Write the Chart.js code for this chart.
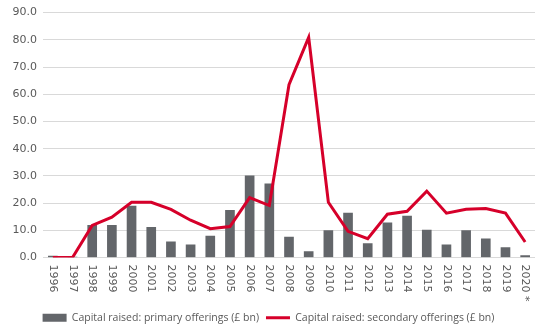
<!DOCTYPE html>
<html>
<head>
<meta charset="utf-8">
<script src="https://cdn.jsdelivr.net/npm/chart.js@4"></script>
<style>
  html, body { margin: 0; padding: 0; background: #fff; }
  #wrap { width: 550px; height: 330px; }
</style>
</head>
<body>
<div id="wrap"><canvas id="chart"></canvas></div>
<script>
// Années (2020* = provisoire)
const years = ['1996', '1997', '1998', '1999', '2000', '2001', '2002', '2003', '2004', '2005',
  '2006', '2007', '2008', '2009', '2010', '2011', '2012', '2013', '2014', '2015',
  '2016', '2017', '2018', '2019', '2020 *'];

// Primary offerings (£ bn)
const primary = [0.5, 0.2, 11.8, 11.8, 18.9, 11.1, 5.8, 4.7, 7.9, 17.3,
  30.0, 27.1, 7.5, 2.2, 9.9, 16.3, 5.1, 12.7, 15.2, 10.1,
  4.7, 9.9, 6.9, 3.6, 0.7];

// Secondary offerings (£ bn)
const secondary = [0.0, 0.0, 11.8, 14.8, 20.3, 20.3, 17.7, 13.7, 10.6, 11.4,
  22.0, 19.1, 63.5, 80.9, 20.3, 9.6, 6.9, 15.9, 17.0, 24.4,
  16.3, 17.7, 18.0, 16.3, 5.7];

const yMax = 90;
const yStep = 10;

const labelFont = '11px "DejaVu Sans"';
const labelColor = '#595959';

// X etiketleri saat yönünde döndürülmüş (yukarıdan aşağı)
const verticalLabels = {
  id: 'verticalLabels',
  afterDraw(chart) {
    const ctx = chart.ctx;
    const xs = chart.scales.x;
    ctx.save();
    ctx.font = labelFont;
    ctx.fillStyle = labelColor;
    ctx.textAlign = 'left';
    ctx.textBaseline = 'middle';
    years.forEach((y, i) => {
      const px = xs.getPixelForValue(i);
      ctx.save();
      ctx.translate(px, xs.top + 7);
      ctx.rotate(Math.PI / 2);
      ctx.fillText(y, 0, 0);
      ctx.restore();
    });
    ctx.restore();
  }
};

new Chart(document.getElementById('chart'), {
  data: {
    labels: years,
    datasets: [
      {
        type: 'bar',
        label: 'Capital raised: primary offerings (£ bn)',
        data: primary,
        backgroundColor: '#63666a',
        borderWidth: 0,
        barThickness: 9,
        pointStyle: 'rect',
        order: 2
      },
      {
        type: 'line',
        label: 'Capital raised: secondary offerings (£ bn)',
        data: secondary,
        borderColor: '#d6002a',
        backgroundColor: '#d6002a',
        borderWidth: 3,
        pointRadius: 0,
        tension: 0,
        pointStyle: 'line',
        order: 1
      }
    ]
  },
  options: {
    responsive: true,
    maintainAspectRatio: false,
    animation: false,
    layout: { padding: { left: 2, right: 15, top: 7, bottom: -3 } },
    plugins: {
      tooltip: { enabled: false },
      legend: {
        position: 'bottom',
        labels: {
          usePointStyle: true,
          pointStyleWidth: 24,
          boxHeight: 8,
          padding: 7,
          color: labelColor,
          font: { family: '"Open Sans"', size: 10.5 },
          sort: (a, b) => a.datasetIndex - b.datasetIndex
        }
      }
    },
    scales: {
      x: {
        grid: { display: false },
        border: { display: false },
        ticks: { display: false },
        afterFit(scale) { scale.height = 48; }
      },
      y: {
        min: 0,
        max: yMax,
        ticks: {
          stepSize: yStep,
          padding: 6,
          color: labelColor,
          font: { family: '"DejaVu Sans"', size: 11 },
          callback: v => v.toFixed(1)
        },
        grid: { color: '#d9d9d9', lineWidth: 1, drawTicks: false },
        border: { display: false },
        afterFit(scale) { scale.width = 41; }
      }
    }
  },
  plugins: [verticalLabels]
});
</script>
</body>
</html>
